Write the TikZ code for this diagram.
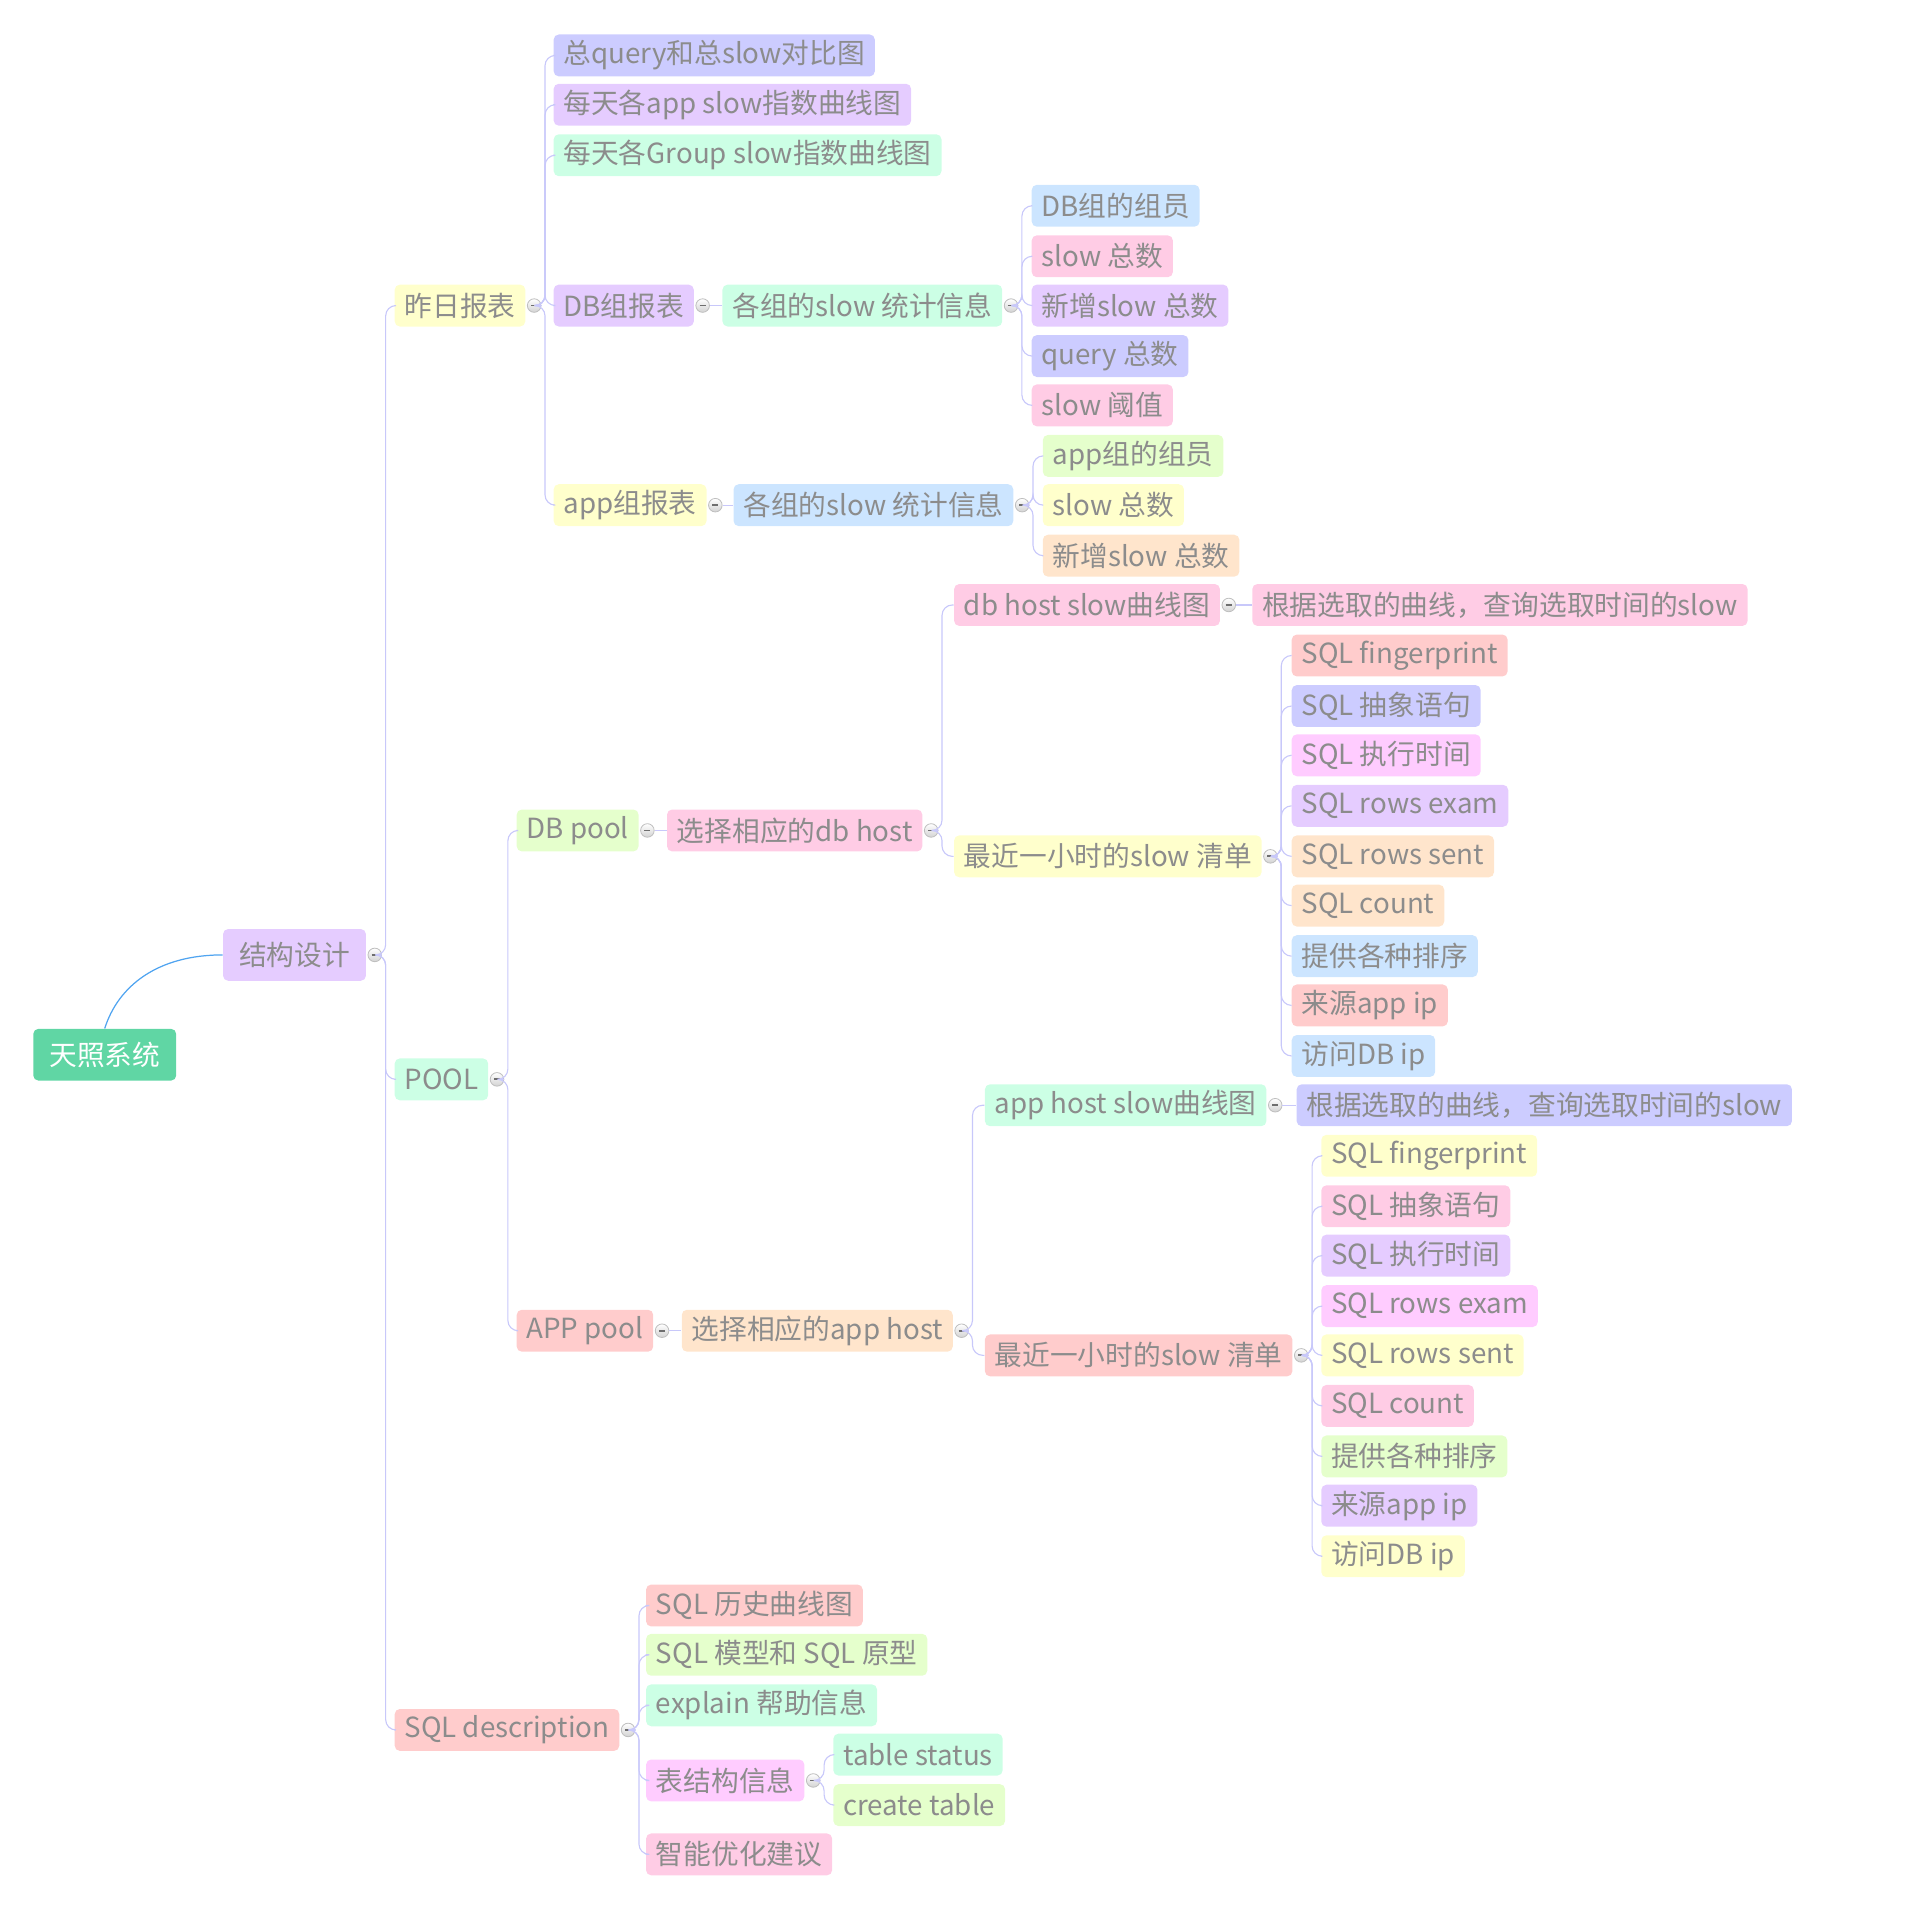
\documentclass[tikz,border=0pt]{standalone}
\usepackage{fontspec}
\usepackage{xcolor}
\usepackage{tikz}
\usetikzlibrary{positioning}

\newfontfamily\cjkfont{Noto Sans CJK SC}

\definecolor{txtgray}{RGB}{140,140,140}
\definecolor{linkcol}{RGB}{200,200,250}
\definecolor{rootlink}{RGB}{80,164,240}
\definecolor{foldgray}{RGB}{110,110,110}
\definecolor{sysgreen}{RGB}{96,214,164}
\definecolor{cperi}{RGB}{204,204,255}
\definecolor{clav}{RGB}{229,204,255}
\definecolor{cmint}{RGB}{204,255,229}
\definecolor{cblue}{RGB}{204,229,255}
\definecolor{cpink}{RGB}{255,204,229}
\definecolor{cyellow}{RGB}{255,255,204}
\definecolor{cgreen}{RGB}{229,255,204}
\definecolor{cpeach}{RGB}{255,229,204}
\definecolor{csalmon}{RGB}{255,204,204}
\definecolor{cmag}{RGB}{255,204,255}

\tikzset{
    topic/.style={anchor=west, rounded corners=2.5pt, minimum height=20.4pt,
        inner xsep=4.8pt, inner ysep=0pt, text=txtgray,
        font=\cjkfont\fontsize{13.5}{16}\selectfont},
    bigtopic/.style={topic, anchor=center, minimum height=25.2pt, minimum width=69.6pt},
    fold/.style={circle, minimum size=6.6pt, inner sep=0pt, draw=gray!50,
        top color=white, bottom color=gray!35,
        path picture={\draw[foldgray, line width=0.9pt]
            ([xshift=-1.5pt]path picture bounding box.center) --
            ([xshift=1.5pt]path picture bounding box.center);}},
    link/.style={draw=linkcol, line width=0.55pt, rounded corners=5pt}
}

\begin{document}
\begin{tikzpicture}[x=0.6pt, y=-0.6pt]
    \useasboundingbox (0,0) rectangle (1568,1550);

    % Root and main topic
    \node[bigtopic, fill=sysgreen, text=white] (sys) at (85,856) {天照系统};
    \node[bigtopic, fill=clav] (design) at (239,775) {结构设计};
    \node[fold, right=0.6pt of design] (fdesign) {};

    % Level 2
    \node[topic, fill=cyellow] (daily) at (320,248) {昨日报表};
    \node[topic, fill=cmint] (pool) at (320,876) {POOL};
    \node[topic, fill=csalmon] (sqldesc) at (320,1404) {SQL description};
    \node[fold, right=0.6pt of daily] (fdaily) {};
    \node[fold, right=0.6pt of pool] (fpool) {};
    \node[fold, right=0.6pt of sqldesc] (fsqldesc) {};

    % Yesterday report
    \node[topic, fill=cperi] (cmp) at (449,45) {总query和总slow对比图};
    \node[topic, fill=clav] (appidx) at (449,85) {每天各app slow指数曲线图};
    \node[topic, fill=cmint] (grpidx) at (449,126) {每天各Group slow指数曲线图};
    \node[topic, fill=clav] (dbrep) at (449,248) {DB组报表};
    \node[topic, fill=cyellow] (apprep) at (449,410) {app组报表};
    \node[fold, right=0.6pt of dbrep] (fdbrep) {};
    \node[fold, right=0.6pt of apprep] (fapprep) {};

    % DB group report
    \node[topic, fill=cmint] (dbstat) at (586,248) {各组的slow 统计信息};
    \node[fold, right=0.6pt of dbstat] (fdbstat) {};
    \node[topic, fill=cblue] (dbmem) at (837,167) {DB组的组员};
    \node[topic, fill=cpink] (dbslow) at (837,208) {slow 总数};
    \node[topic, fill=clav] (dbnew) at (837,248) {新增slow 总数};
    \node[topic, fill=cperi] (dbquery) at (837,289) {query 总数};
    \node[topic, fill=cpink] (dblimit) at (837,329) {slow 阈值};

    % App group report
    \node[topic, fill=cblue] (appstat) at (595,410) {各组的slow 统计信息};
    \node[fold, right=0.6pt of appstat] (fappstat) {};
    \node[topic, fill=cgreen] (appmem) at (846,370) {app组的组员};
    \node[topic, fill=cyellow] (appslow) at (846,410) {slow 总数};
    \node[topic, fill=cpeach] (appnew) at (846,451) {新增slow 总数};

    % DB pool
    \node[topic, fill=cgreen] (dbpool) at (419,674) {DB pool};
    \node[fold, right=0.6pt of dbpool] (fdbpool) {};
    \node[topic, fill=cpink] (dbhost) at (541,674) {选择相应的db host};
    \node[fold, right=0.6pt of dbhost] (fdbhost) {};
    \node[topic, fill=cpink] (dbcurve) at (774,491) {db host slow曲线图};
    \node[fold, right=0.6pt of dbcurve] (fdbcurve) {};
    \node[topic, fill=cpink] (dbpick) at (1016,491) {根据选取的曲线，查询选取时间的slow};
    \node[topic, fill=cyellow] (dblist) at (774,695) {最近一小时的slow 清单};
    \node[fold, right=0.6pt of dblist] (fdblist) {};
    \node[topic, fill=csalmon] (d1) at (1048,532) {SQL fingerprint};
    \node[topic, fill=cperi] (d2) at (1048,573) {SQL 抽象语句};
    \node[topic, fill=cmag] (d3) at (1048,613) {SQL 执行时间};
    \node[topic, fill=clav] (d4) at (1048,654) {SQL rows exam};
    \node[topic, fill=cpeach] (d5) at (1048,695) {SQL rows sent};
    \node[topic, fill=cpeach] (d6) at (1048,735) {SQL count};
    \node[topic, fill=cblue] (d7) at (1048,776) {提供各种排序};
    \node[topic, fill=csalmon] (d8) at (1048,816) {来源app ip};
    \node[topic, fill=cblue] (d9) at (1048,857) {访问DB ip};

    % APP pool
    \node[topic, fill=csalmon] (apppool) at (419,1080) {APP pool};
    \node[fold, right=0.6pt of apppool] (fapppool) {};
    \node[topic, fill=cpeach] (apphost) at (553,1080) {选择相应的app host};
    \node[fold, right=0.6pt of apphost] (fapphost) {};
    \node[topic, fill=cmint] (appcurve) at (799,897) {app host slow曲线图};
    \node[fold, right=0.6pt of appcurve] (fappcurve) {};
    \node[topic, fill=cperi] (apppick) at (1052,897) {根据选取的曲线，查询选取时间的slow};
    \node[topic, fill=csalmon] (applist) at (799,1100) {最近一小时的slow 清单};
    \node[fold, right=0.6pt of applist] (fapplist) {};
    \node[topic, fill=cyellow] (a1) at (1072,938) {SQL fingerprint};
    \node[topic, fill=cpink] (a2) at (1072,979) {SQL 抽象语句};
    \node[topic, fill=clav] (a3) at (1072,1019) {SQL 执行时间};
    \node[topic, fill=cmag] (a4) at (1072,1060) {SQL rows exam};
    \node[topic, fill=cyellow] (a5) at (1072,1100) {SQL rows sent};
    \node[topic, fill=cpink] (a6) at (1072,1141) {SQL count};
    \node[topic, fill=cgreen] (a7) at (1072,1182) {提供各种排序};
    \node[topic, fill=clav] (a8) at (1072,1222) {来源app ip};
    \node[topic, fill=cyellow] (a9) at (1072,1263) {访问DB ip};

    % SQL description
    \node[topic, fill=csalmon] (hist) at (524,1303) {SQL 历史曲线图};
    \node[topic, fill=cgreen] (model) at (524,1343) {SQL 模型和 SQL 原型};
    \node[topic, fill=cmint] (explain) at (524,1384) {explain 帮助信息};
    \node[topic, fill=cmag] (tbl) at (524,1445) {表结构信息};
    \node[topic, fill=cpink] (advice) at (524,1505) {智能优化建议};
    \node[fold, right=0.6pt of tbl] (ftbl) {};
    \node[topic, fill=cmint] (tstatus) at (676,1424) {table status};
    \node[topic, fill=cgreen] (tcreate) at (676,1465) {create table};

    % Edges
    \draw[rootlink, line width=0.6pt] (sys.north) .. controls (96,800) and (128,775) .. (design.west);

    \draw[link] (fdesign.east) -- ++(3,0) |- (daily.west);
    \draw[link] (fdesign.east) -- ++(3,0) |- (pool.west);
    \draw[link] (fdesign.east) -- ++(3,0) |- (sqldesc.west);

    \draw[link] (fdaily.east) -- ++(3,0) |- (cmp.west);
    \draw[link] (fdaily.east) -- ++(3,0) |- (appidx.west);
    \draw[link] (fdaily.east) -- ++(3,0) |- (grpidx.west);
    \draw[link] (fdaily.east) -- ++(3,0) |- (dbrep.west);
    \draw[link] (fdaily.east) -- ++(3,0) |- (apprep.west);

    \draw[link] (fdbrep.east) -- (dbstat.west);
    \draw[link] (fdbstat.east) -- ++(3,0) |- (dbmem.west);
    \draw[link] (fdbstat.east) -- ++(3,0) |- (dbslow.west);
    \draw[link] (fdbstat.east) -- ++(3,0) |- (dbnew.west);
    \draw[link] (fdbstat.east) -- ++(3,0) |- (dbquery.west);
    \draw[link] (fdbstat.east) -- ++(3,0) |- (dblimit.west);

    \draw[link] (fapprep.east) -- (appstat.west);
    \draw[link] (fappstat.east) -- ++(3,0) |- (appmem.west);
    \draw[link] (fappstat.east) -- ++(3,0) |- (appslow.west);
    \draw[link] (fappstat.east) -- ++(3,0) |- (appnew.west);

    \draw[link] (fpool.east) -- ++(3,0) |- (dbpool.west);
    \draw[link] (fpool.east) -- ++(3,0) |- (apppool.west);

    \draw[link] (fdbpool.east) -- (dbhost.west);
    \draw[link] (fdbhost.east) -- ++(3,0) |- (dbcurve.west);
    \draw[link] (fdbhost.east) -- ++(3,0) |- (dblist.west);
    \draw[link] (fdbcurve.east) -- (dbpick.west);
    \draw[link] (fdblist.east) -- ++(3,0) |- (d1.west);
    \draw[link] (fdblist.east) -- ++(3,0) |- (d2.west);
    \draw[link] (fdblist.east) -- ++(3,0) |- (d3.west);
    \draw[link] (fdblist.east) -- ++(3,0) |- (d4.west);
    \draw[link] (fdblist.east) -- ++(3,0) |- (d5.west);
    \draw[link] (fdblist.east) -- ++(3,0) |- (d6.west);
    \draw[link] (fdblist.east) -- ++(3,0) |- (d7.west);
    \draw[link] (fdblist.east) -- ++(3,0) |- (d8.west);
    \draw[link] (fdblist.east) -- ++(3,0) |- (d9.west);

    \draw[link] (fapppool.east) -- (apphost.west);
    \draw[link] (fapphost.east) -- ++(3,0) |- (appcurve.west);
    \draw[link] (fapphost.east) -- ++(3,0) |- (applist.west);
    \draw[link] (fappcurve.east) -- (apppick.west);
    \draw[link] (fapplist.east) -- ++(3,0) |- (a1.west);
    \draw[link] (fapplist.east) -- ++(3,0) |- (a2.west);
    \draw[link] (fapplist.east) -- ++(3,0) |- (a3.west);
    \draw[link] (fapplist.east) -- ++(3,0) |- (a4.west);
    \draw[link] (fapplist.east) -- ++(3,0) |- (a5.west);
    \draw[link] (fapplist.east) -- ++(3,0) |- (a6.west);
    \draw[link] (fapplist.east) -- ++(3,0) |- (a7.west);
    \draw[link] (fapplist.east) -- ++(3,0) |- (a8.west);
    \draw[link] (fapplist.east) -- ++(3,0) |- (a9.west);

    \draw[link] (fsqldesc.east) -- ++(3,0) |- (hist.west);
    \draw[link] (fsqldesc.east) -- ++(3,0) |- (model.west);
    \draw[link] (fsqldesc.east) -- ++(3,0) |- (explain.west);
    \draw[link] (fsqldesc.east) -- ++(3,0) |- (tbl.west);
    \draw[link] (fsqldesc.east) -- ++(3,0) |- (advice.west);
    \draw[link] (ftbl.east) -- ++(3,0) |- (tstatus.west);
    \draw[link] (ftbl.east) -- ++(3,0) |- (tcreate.west);
\end{tikzpicture}
\end{document}
